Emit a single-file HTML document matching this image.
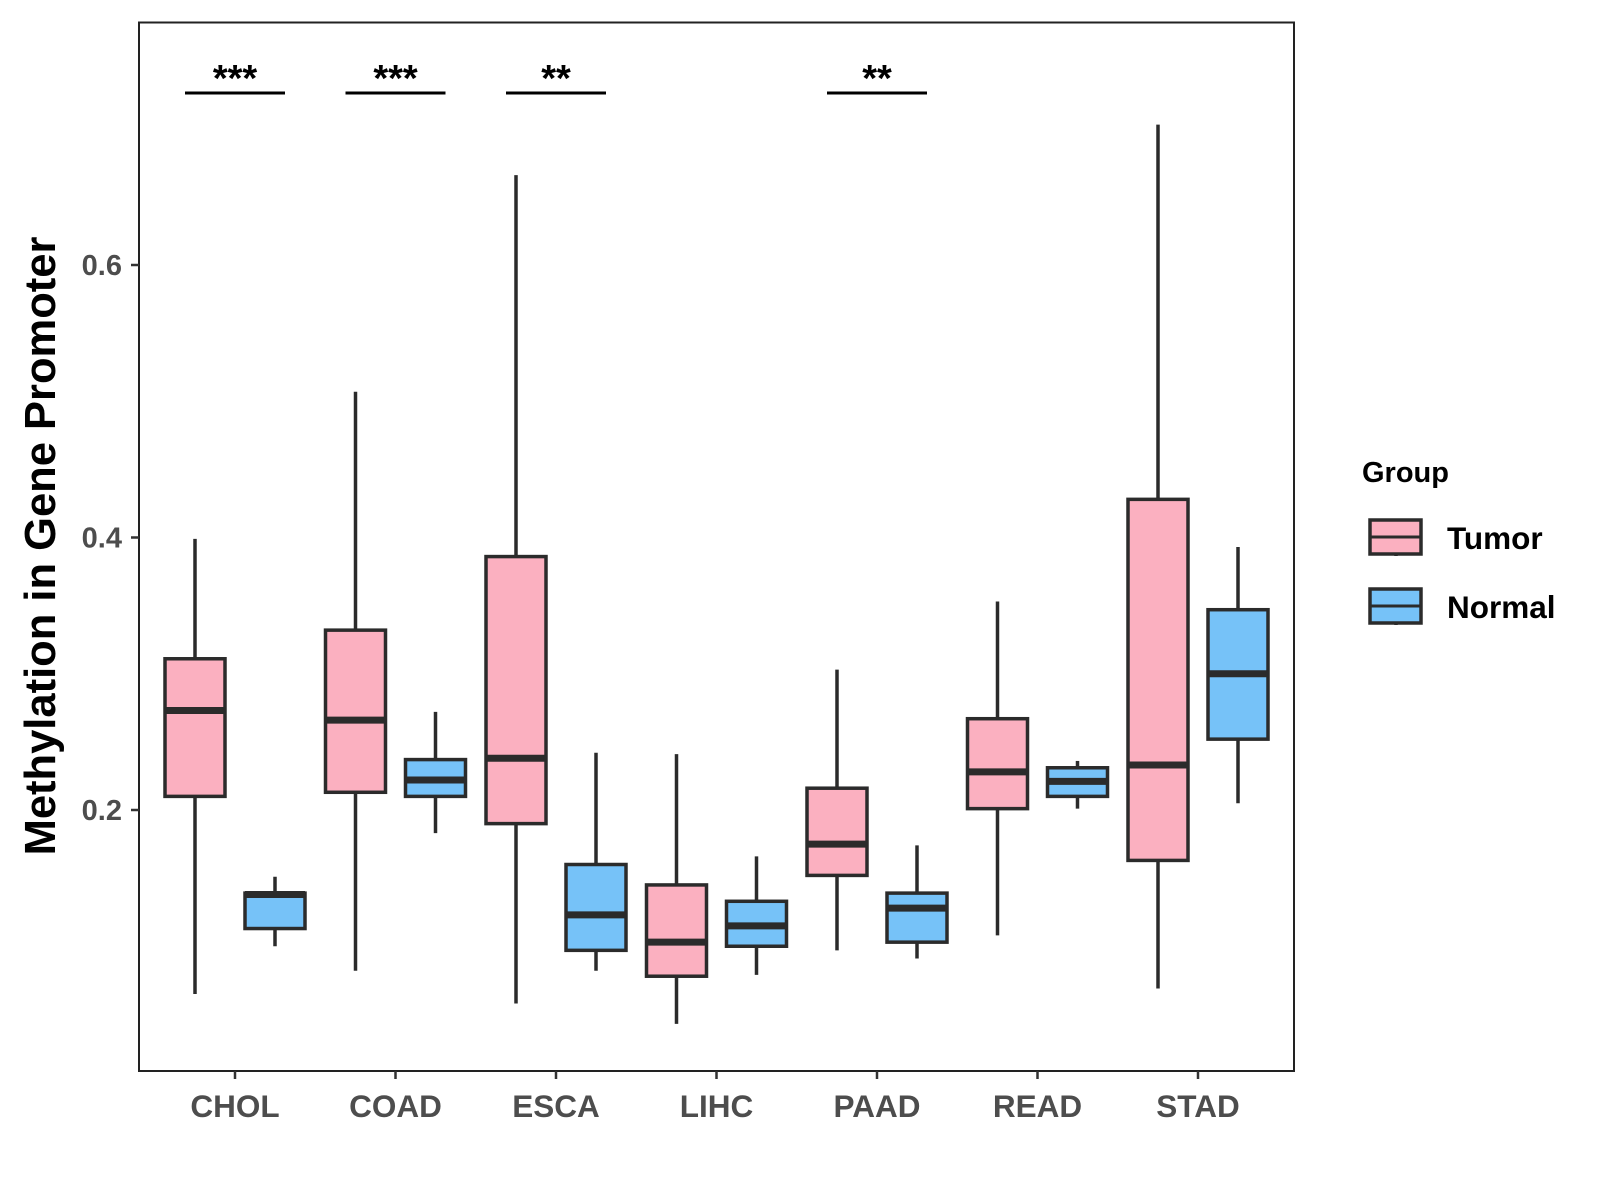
<!DOCTYPE html>
<html><head><meta charset="utf-8"><style>
html,body{margin:0;padding:0;background:#fff;}
svg{display:block;font-family:"Liberation Sans",Arial,sans-serif;font-weight:bold;}
</style></head><body>
<svg id="chart" width="1600" height="1200" viewBox="0 0 1600 1200">
<rect x="0" y="0" width="1600" height="1200" fill="#fff"/>
<g id="marks"></g>
<rect x="139" y="22.5" width="1155" height="1048.5" fill="none" stroke="#222" stroke-width="2"/>
<g id="axes"></g>
<text transform="translate(55,546) rotate(-90)" text-anchor="middle" font-size="43.5" fill="#000">Methylation in Gene Promoter</text>
<g>
<text x="1362" y="482" font-size="29" fill="#000">Group</text>
<g>
<line x1="1396" y1="519" x2="1396" y2="556" stroke="#2b2b2b" stroke-width="3.5"/>
<rect x="1370" y="520" width="51" height="34" fill="#fbb0c0" stroke="#2b2b2b" stroke-width="3.5"/>
<line x1="1370" y1="537" x2="1421" y2="537" stroke="#2b2b2b" stroke-width="3"/>
<text x="1447" y="549" font-size="31.5" fill="#000">Tumor</text></g>
<g>
<line x1="1396" y1="588" x2="1396" y2="625" stroke="#2b2b2b" stroke-width="3.5"/>
<rect x="1370" y="589" width="51" height="34" fill="#76c2f8" stroke="#2b2b2b" stroke-width="3.5"/>
<line x1="1370" y1="606" x2="1421" y2="606" stroke="#2b2b2b" stroke-width="3"/>
<text x="1447" y="618" font-size="31.5" fill="#000">Normal</text></g>
</g>
</svg>
<script>
const categories = ["CHOL","COAD","ESCA","LIHC","PAAD","READ","STAD"];
// [lower whisker, q1, median, q3, upper whisker]
const tumorStats = [
 [0.065,0.210,0.273,0.311,0.399],
 [0.082,0.213,0.266,0.332,0.507],
 [0.058,0.190,0.238,0.386,0.666],
 [0.043,0.078,0.103,0.145,0.241],
 [0.097,0.152,0.175,0.216,0.303],
 [0.108,0.201,0.228,0.267,0.353],
 [0.069,0.163,0.233,0.428,0.703]];
const normalStats = [
 [0.100,0.113,0.138,0.139,0.151],
 [0.183,0.210,0.222,0.237,0.272],
 [0.082,0.097,0.123,0.160,0.242],
 [0.079,0.100,0.115,0.133,0.166],
 [0.091,0.103,0.128,0.139,0.174],
 [0.201,0.210,0.221,0.231,0.236],
 [0.205,0.252,0.300,0.347,0.393]];
const yTicks = [0.2,0.4,0.6];
const yTickLabels = ["0.2","0.4","0.6"];
const sigLabels = ["***","***","**","","**","",""];

const NS="http://www.w3.org/2000/svg";
const y = v => 810 - (v-0.2)*1362.5;
const x = i => 235 + i*160.5;
const marks=document.getElementById('marks'), axes=document.getElementById('axes');
function mk(tag,attrs,parent){const e=document.createElementNS(NS,tag);for(const k in attrs)e.setAttribute(k,attrs[k]);parent.appendChild(e);return e;}
function box(cx,s,fill,name,parent){
  const g=mk('g',{},parent);
  
  
  mk('line',{x1:cx,x2:cx,y1:y(s[4]),y2:y(s[0]),stroke:'#2b2b2b','stroke-width':3.5},g);
  mk('rect',{x:cx-30,y:y(s[3]),width:60,height:y(s[1])-y(s[3]),fill:fill,stroke:'#2b2b2b','stroke-width':3.5},g);
  mk('line',{x1:cx-30,x2:cx+30,y1:y(s[2]),y2:y(s[2]),stroke:'#2b2b2b','stroke-width':7},g);
}
categories.forEach((c,i)=>{
  box(x(i)-40,tumorStats[i],'#fbb0c0','box-tumor-'+c.toLowerCase(),marks);
  box(x(i)+40,normalStats[i],'#76c2f8','box-normal-'+c.toLowerCase(),marks);
  if(sigLabels[i]){
    const g=mk('g',{},marks);
    
    
    mk('line',{x1:x(i)-50,x2:x(i)+50,y1:93,y2:93,stroke:'#000','stroke-width':3},g);
    const t=mk('text',{x:x(i),y:91,'text-anchor':'middle','font-size':38,fill:'#000'},g);
    t.textContent=sigLabels[i];
  }
  mk('line',{x1:x(i),x2:x(i),y1:1071,y2:1079,stroke:'#333','stroke-width':2.5},axes);
  const t=mk('text',{x:x(i),y:1117,'text-anchor':'middle','font-size':31.5,fill:'#4d4d4d'},axes);
  
  
  t.textContent=c;
});
yTicks.forEach((v,i)=>{
  mk('line',{x1:131,x2:139,y1:y(v),y2:y(v),stroke:'#333','stroke-width':2.5},axes);
  const t=mk('text',{x:122,y:y(v)+10,'text-anchor':'end','font-size':29,fill:'#4d4d4d'},axes);
  
  
  t.textContent=yTickLabels[i];
});
</script>
</body></html>
